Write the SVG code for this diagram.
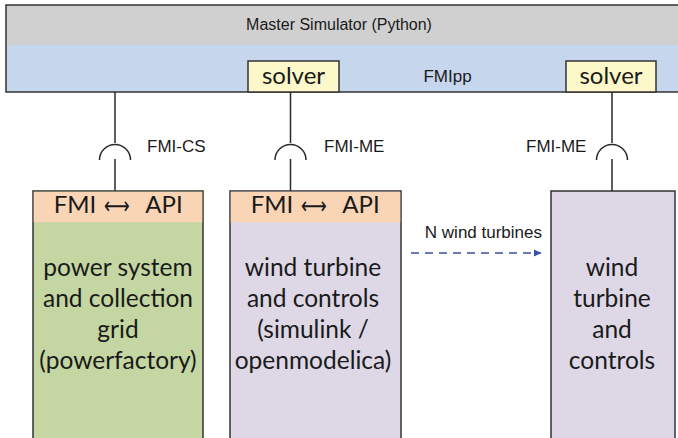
<svg xmlns="http://www.w3.org/2000/svg" width="678" height="438" viewBox="0 0 678 438">
  <defs>
    <style>
      .edge { stroke: #2b2b2b; stroke-width: 1.5; fill: none; }
      .sans { font-family: "Liberation Sans", Arial, sans-serif; font-size: 17px; fill: #1a1a1a; }
      .cal { font-family: Lato, "Open Sans", sans-serif; fill: #1a1a1a; text-anchor: middle; }
      .big { font-size: 24.5px; }
      .hdr { font-size: 24px; }
      .arr { font-family: "DejaVu Sans", sans-serif; font-size: 24px; fill: #1a1a1a; text-anchor: middle; }
      .box { stroke: #333; stroke-width: 1.5; }
    </style>
    <marker id="arrow" markerWidth="8" markerHeight="8" refX="7" refY="4" orient="auto" markerUnits="userSpaceOnUse">
      <path d="M0,0.5 L7.5,4 L0,7.5 Z" fill="#3a4fa8"/>
    </marker>
  </defs>

  <!-- master simulator with FMIpp layer -->
  <g id="master">
    <rect x="6" y="5" width="680" height="40" fill="#d0d0d0"/>
    <rect x="6" y="45" width="680" height="47" fill="#c6d6ec"/>
    <rect x="6" y="5" width="680" height="87" fill="none" class="box"/>
    <text class="sans" x="339" y="30" text-anchor="middle" style="font-size:16px">Master Simulator (Python)</text>
    <text class="sans" x="447.5" y="82" text-anchor="middle">FMIpp</text>
  </g>

  <g id="solver1">
    <rect x="248" y="61" width="91" height="31" fill="#fdf8c9" class="box"/>
    <text class="cal hdr" x="293.5" y="84">solver</text>
  </g>
  <g id="solver2">
    <rect x="566" y="61" width="90" height="31" fill="#fdf8c9" class="box"/>
    <text class="cal hdr" x="611" y="84">solver</text>
  </g>

  <!-- FMU interfaces -->
  <g id="connectors">
    <path class="edge" d="M115,92 V143 M99.5,160 A15.5,15.5 0 0 1 130.5,160 M115,159 V191"/>
    <path class="edge" d="M290.5,92 V143 M275,160 A15.5,15.5 0 0 1 306,160 M290.5,159 V191"/>
    <path class="edge" d="M612,92 V143 M596.5,160 A15.5,15.5 0 0 1 627.5,160 M612,159 V191"/>
    <line x1="411" y1="253" x2="541" y2="253" stroke="#3a4fa8" stroke-width="1.5" stroke-dasharray="8,6" marker-end="url(#arrow)"/>
    <text class="sans" x="147" y="152">FMI-CS</text>
    <text class="sans" x="324" y="152">FMI-ME</text>
    <text class="sans" x="526" y="152">FMI-ME</text>
    <text class="sans" x="542" y="238" text-anchor="end">N wind turbines</text>
  </g>

  <g id="grid">
    <rect x="33" y="191" width="170" height="260" fill="#c4d6a1" class="box"/>
    <rect x="33.75" y="191.75" width="168.5" height="30.5" fill="#f9d5b6"/>
    <text class="cal hdr" y="213"><tspan x="75">FMI</tspan><tspan x="164">API</tspan></text>
    <text class="arr" transform="translate(117,214) scale(0.75,1)">⟷</text>
    <text class="cal big" x="118" y="276">power system</text>
    <text class="cal big" x="118" y="307">and collection</text>
    <text class="cal big" x="118" y="338">grid</text>
    <text class="cal big" x="118" y="369">(powerfactory)</text>
  </g>

  <g id="turbine1">
    <rect x="230" y="191" width="171" height="260" fill="#ddd7e6" class="box"/>
    <rect x="230.75" y="191.75" width="169.5" height="30.5" fill="#f9d5b6"/>
    <text class="cal hdr" y="213"><tspan x="272">FMI</tspan><tspan x="361">API</tspan></text>
    <text class="arr" transform="translate(314,214) scale(0.75,1)">⟷</text>
    <text class="cal big" x="313" y="276">wind turbine</text>
    <text class="cal big" x="313" y="307">and controls</text>
    <text class="cal big" x="313" y="338">(simulink /</text>
    <text class="cal big" x="313" y="369">openmodelica)</text>
  </g>

  <g id="turbineN">
    <rect x="551" y="191" width="124" height="260" fill="#ddd7e6" class="box"/>
    <text class="cal big" x="612" y="276">wind</text>
    <text class="cal big" x="612" y="307">turbine</text>
    <text class="cal big" x="612" y="338">and</text>
    <text class="cal big" x="612" y="369">controls</text>
  </g>
</svg>
